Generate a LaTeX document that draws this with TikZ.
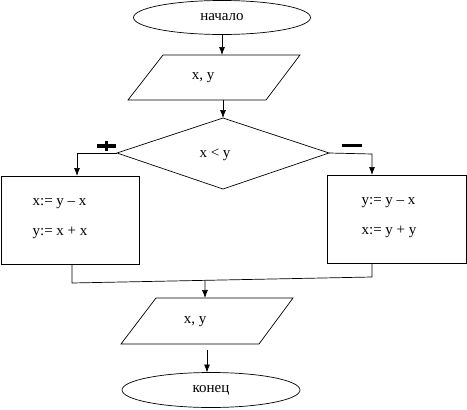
\documentclass[tikz,border=0pt]{standalone}
\usepackage{fontspec}
\setmainfont{Liberation Serif}
\usetikzlibrary{shapes.geometric,arrows.meta,calc}
\begin{document}
\begin{tikzpicture}[x=1pt,y=-1pt,line width=0.7pt,
  >={Latex[length=8pt,width=6pt]},
  lbl/.style={font=\fontsize{15}{18}\selectfont,inner sep=0pt,align=left},
  term/.style={ellipse,draw,minimum width=177pt,minimum height=34pt,font=\fontsize{15}{18}\selectfont,inner sep=0pt},
  signline/.style={line width=3.6pt}]
\useasboundingbox (0,0) rectangle (467,410);
% start
\node[term] (start) at (222,17.5) {начало};
% input
\draw (163,55) -- (300,55) -- (266,100) -- (128,100) -- cycle;
\node[lbl] (in) at (203,78) {x, y};
\coordinate (inT) at (222,55);
\coordinate (inB) at (223,100);
% decision
\coordinate (dT) at (223,118);
\coordinate (dL) at (117,153);
\coordinate (dR) at (329,153);
\coordinate (dB) at (223,189);
\draw (dT) -- (dR) -- (dB) -- (dL) -- cycle;
\node[lbl] (cond) at (215,155) {x < y};
% boxes
\draw (1,176) rectangle (139,264);
\node[lbl] (lt) at (60,219) {x:= y – x\\[12pt]y:= x + x};
\draw (327,175) rectangle (466,263);
\node[lbl] (rt) at (389,218) {y:= y – x\\[12pt]x:= y + y};
\coordinate (lbT) at (77,176);
\coordinate (rbT) at (372,175);
\coordinate (lbB) at (72,264);
\coordinate (rbB) at (372,263);
\coordinate (jl) at (72,283);
\coordinate (jr) at (372,277);
\coordinate (jm) at ($(jl)!0.443!(jr)$);
% signs
\coordinate (plusC) at (106.5,146);
\draw[signline] ($(plusC)+(-9.5,0)$) -- ($(plusC)+(9.5,0)$);
\draw[signline] ($(plusC)+(0,-5)$) -- ($(plusC)+(0,5)$);
\coordinate (minusC) at (352,145.3);
\draw[line width=3pt] ($(minusC)+(-10,0)$) -- ($(minusC)+(10,0)$);
% output
\draw (156,298) -- (293,298) -- (259,344) -- (121,344) -- cycle;
\node[lbl] (out) at (195,322) {x, y};
\coordinate (outT) at (205,298);
\coordinate (outB) at (207,350);
\coordinate (endT) at (207,372.5);
% end
\node[term,minimum width=178pt,minimum height=35pt] (stop) at (211,390) {конец};
% connectors
\draw[->] (start.south) -- (inT);
\draw[->] (inB) -- (dT);
\draw[->] (dL) -- (77,153) -- (lbT);
\draw[->] (dR) -- (372,154) -- (rbT);
\draw (lbB) -- (jl) -- (jr) -- (rbB);
\draw[->] (jm) -- (outT);
\draw[->] (outB) -- (endT);
\end{tikzpicture}
\end{document}
